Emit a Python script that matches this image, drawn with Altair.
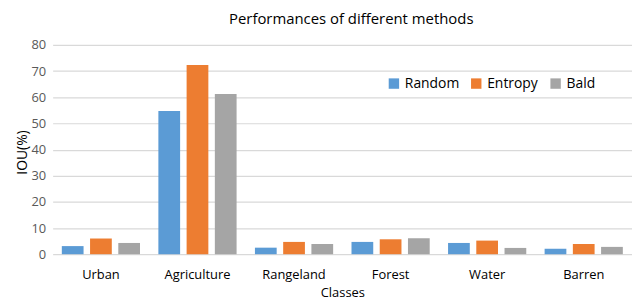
import altair as alt
import pandas as pd

classes = ["Urban", "Agriculture", "Rangeland", "Forest", "Water", "Barren"]
methods = ["Random", "Entropy", "Bald"]
random_vals = [3.1, 54.7, 2.5, 4.7, 4.3, 2.1]
entropy_vals = [6.0, 72.3, 4.7, 5.7, 5.2, 3.9]
bald_vals = [4.3, 61.2, 3.9, 6.1, 2.4, 2.8]
colors = ["#5B9BD5", "#ED7D31", "#A5A5A5"]

rows = []
for m, vals in zip(methods, [random_vals, entropy_vals, bald_vals]):
    for c, v in zip(classes, vals):
        rows.append({"Class": c, "Method": m, "IOU": v})
df = pd.DataFrame(rows)

FONT = "Open Sans"

chart = alt.Chart(df).mark_bar().encode(
    x=alt.X("Class:N", sort=classes,
            scale=alt.Scale(paddingInner=0.19, paddingOuter=0.095),
            axis=alt.Axis(title="Classes", labelAngle=0, ticks=False, domain=False,
                          labelPadding=14, titlePadding=6, labelFontSize=13,
                          titleFontSize=13, labelColor="#000000", titleColor="#000000",
                          titleFontWeight="normal", labelFont=FONT, titleFont=FONT)),
    xOffset=alt.XOffset("Method:N", sort=methods,
                        scale=alt.Scale(paddingInner=0.23, paddingOuter=0)),
    y=alt.Y("IOU:Q", scale=alt.Scale(domain=[0, 80]),
            axis=alt.Axis(title="IOU(%)", values=list(range(0, 81, 10)), ticks=False,
                          domain=False, labelPadding=7, titlePadding=1,
                          labelFontSize=13, titleFontSize=14, labelColor="#595959",
                          titleColor="#000000", titleFontWeight="normal",
                          gridColor="#D9D9D9", gridWidth=1.2, titleY=108,
                          labelFont=FONT, titleFont=FONT)),
    color=alt.Color("Method:N", sort=methods,
                    scale=alt.Scale(domain=methods, range=colors),
                    legend=alt.Legend(title=None, orient="none", direction="horizontal",
                                      legendX=337, legendY=32, symbolType="square",
                                      symbolSize=110, symbolStrokeWidth=0,
                                      labelFontSize=14, labelFont=FONT,
                                      labelColor="#000000", columnPadding=10,
                                      symbolOffset=0)),
).properties(
    width=584, height=211,
    title=alt.TitleParams("Performances of different methods", fontSize=15,
                          fontWeight="normal", font=FONT, color="#000000", offset=12,
                          dx=9),
    autosize=alt.AutoSizeParams(type="none"),
    padding={"left": 45, "top": 36, "right": 0, "bottom": 48},
).configure_view(stroke=None)

chart.save("out.html", embed_options={"renderer": "svg", "actions": False})
